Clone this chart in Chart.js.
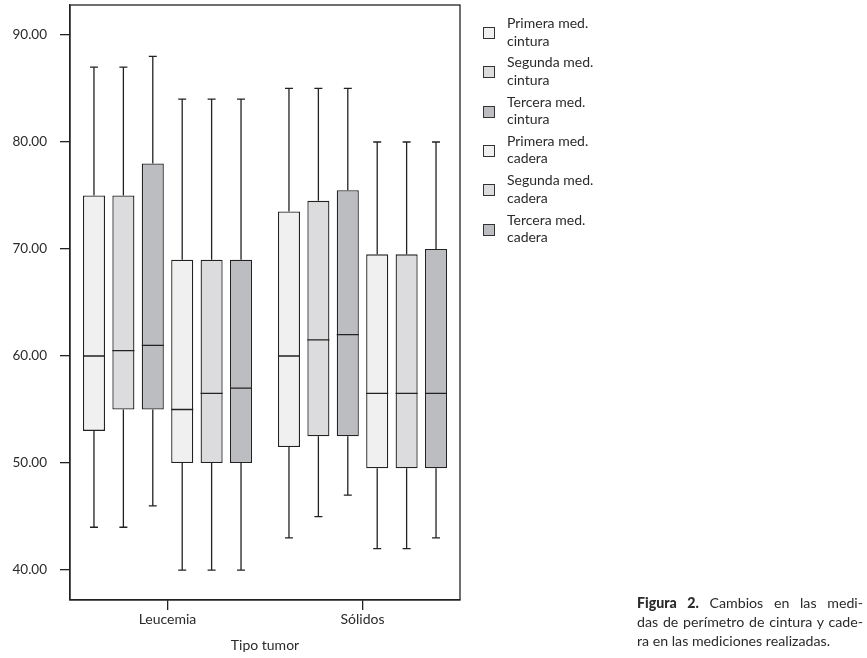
<!DOCTYPE html>
<html>
<head>
<meta charset="utf-8">
<script src="https://cdn.jsdelivr.net/npm/chart.js@4/dist/chart.umd.min.js"></script>
<style>
  html, body { margin: 0; padding: 0; background: #fff; }
  #wrap { position: relative; width: 867px; height: 658px; overflow: hidden; font-family: Lato, "Open Sans", sans-serif; color: #2a2a2a; }
  #c { position: absolute; left: 0; top: 0; }
  .leg { position: absolute; left: 483px; width: 140px; }
  .leg .sw { position: absolute; left: 0; width: 10px; height: 10px; border: 1px solid #333; }
  .leg .tx { position: absolute; left: 24px; font-size: 14px; line-height: 17.5px; white-space: nowrap; }
  #cap { position: absolute; left: 637px; top: 593px; width: 226px; font-size: 14.2px; line-height: 19px; }
  #cap div { text-align: justify; text-align-last: justify; white-space: nowrap; }
  #cap div.last { text-align-last: left; }
</style>
</head>
<body>
<div id="wrap">
  <canvas id="c" width="867" height="658"></canvas>
  <div id="legend"></div>
  <div id="cap">
    <div><b style="font-weight:900">Figura 2.</b> Cambios en las medi-</div>
    <div>das de perímetro de cintura y cade-</div>
    <div class="last">ra en las mediciones realizadas.</div>
  </div>
</div>
<script>
// ---- Data ----
const categories = ['Leucemia', 'Sólidos'];
const seriesNames = [
  ['Primera med.', 'cintura'],
  ['Segunda med.', 'cintura'],
  ['Tercera med.', 'cintura'],
  ['Primera med.', 'cadera'],
  ['Segunda med.', 'cadera'],
  ['Tercera med.', 'cadera']
];
// one row per series, one value per category
const whiskerLow  = [[44, 43], [44, 45], [46, 47], [40, 42], [40, 42], [40, 43]];
const quartile1   = [[53, 51.5], [55, 52.5], [55, 52.5], [50, 49.5], [50, 49.5], [50, 49.5]];
const medians     = [[60, 60], [60.5, 61.5], [61, 62], [55, 56.5], [56.5, 56.5], [57, 56.5]];
const quartile3   = [[75, 73.5], [75, 74.5], [78, 75.5], [69, 69.5], [69, 69.5], [69, 70]];
const whiskerHigh = [[87, 85], [87, 85], [88, 85], [84, 80], [84, 80], [84, 80]];
const yTicks = [40, 50, 60, 70, 80, 90];

const fills = ['#f0f0f0', '#dcdcde', '#bcbdc1', '#f0f0f0', '#dcdcde', '#bcbdc1'];
const ink = '#222222';

// ---- Legend (HTML) ----
const legend = document.getElementById('legend');
seriesNames.forEach((nm, i) => {
  const top = 27 + i * 39.3;
  const d = document.createElement('div');
  d.className = 'leg';
  d.style.top = top + 'px';
  d.innerHTML = '<div class="sw" style="top:0;background:' + fills[i] + '"></div>' +
    '<div class="tx" style="top:-13px">' + nm[0] + '<br>' + nm[1] + '</div>';
  legend.appendChild(d);
});

// ---- Box plot extras (whiskers, medians, frame) ----
const boxExtras = {
  id: 'boxExtras',
  afterDatasetsDraw(chart) {
    const ctx = chart.ctx;
    const y = chart.scales.y;
    ctx.save();
    ctx.strokeStyle = ink;
    ctx.lineWidth = 1.3;
    chart.data.datasets.forEach((ds, si) => {
      const meta = chart.getDatasetMeta(si);
      meta.data.forEach((el, ci) => {
        const x = el.x, w = el.width;
        const yLo = y.getPixelForValue(whiskerLow[si][ci]);
        const yQ1 = y.getPixelForValue(quartile1[si][ci]);
        const yMd = y.getPixelForValue(medians[si][ci]);
        const yQ3 = y.getPixelForValue(quartile3[si][ci]);
        const yHi = y.getPixelForValue(whiskerHigh[si][ci]);
        const cap = 4;
        ctx.beginPath();
        ctx.moveTo(x, yQ3); ctx.lineTo(x, yHi);
        ctx.moveTo(x - cap, yHi); ctx.lineTo(x + cap, yHi);
        ctx.moveTo(x, yQ1); ctx.lineTo(x, yLo);
        ctx.moveTo(x - cap, yLo); ctx.lineTo(x + cap, yLo);
        ctx.moveTo(x - w / 2, yMd); ctx.lineTo(x + w / 2, yMd);
        ctx.stroke();
      });
    });
    const a = chart.chartArea;
    ctx.lineWidth = 1.3;
    ctx.strokeRect(a.left, a.top, a.right - a.left, a.bottom - a.top);
    ctx.restore();
  }
};

const datasets = seriesNames.map((nm, si) => ({
  label: nm.join(' '),
  data: categories.map((c, ci) => [quartile1[si][ci], quartile3[si][ci]]),
  backgroundColor: fills[si],
  borderColor: ink,
  borderWidth: 1.3,
  borderSkipped: false,
  barPercentage: 0.75,
  categoryPercentage: 0.905
}));

new Chart(document.getElementById('c'), {
  type: 'bar',
  data: { labels: categories, datasets },
  plugins: [boxExtras],
  options: {
    responsive: false,
    animation: false,
    layout: { padding: { left: 0, top: 5, right: 407, bottom: 0 } },
    plugins: { legend: { display: false }, tooltip: { enabled: false } },
    scales: {
      x: {
        grid: { display: true, drawOnChartArea: false, drawTicks: true, tickLength: 10, offset: false, color: ink, tickColor: ink, tickWidth: 1.3, lineWidth: 1.3 },
        border: { display: true, color: ink, width: 1.3 },
        ticks: { color: '#2a2a2a', font: { family: 'Lato', size: 14 }, padding: 1 },
        title: { display: true, text: 'Tipo tumor', color: '#2a2a2a', font: { family: 'Lato', size: 14 }, padding: { top: 3 } },
        afterFit(s) { s.height = 58; s.paddingLeft = 0; s.paddingRight = 0; }
      },
      y: {
        min: 37.2,
        max: 92.8,
        afterBuildTicks(s) { s.ticks = yTicks.map(v => ({ value: v })); },
        grid: { display: true, drawOnChartArea: false, drawTicks: true, tickLength: 10, color: ink, tickColor: ink, tickWidth: 1.3, lineWidth: 1.3 },
        border: { display: true, color: ink, width: 1.3 },
        ticks: { color: '#2a2a2a', font: { family: 'Lato', size: 13.5 }, padding: 13, callback: v => Number(v).toFixed(2) },
        afterFit(s) { s.width = 70; s.paddingTop = 0; s.paddingBottom = 0; }
      }
    }
  }
});
</script>
</body>
</html>
